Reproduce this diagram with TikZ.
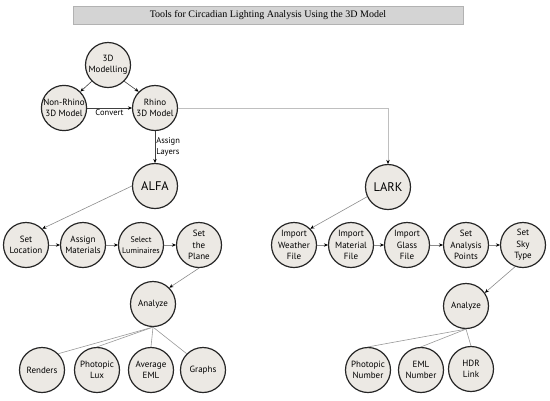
\documentclass[tikz,border=0pt]{standalone}
\usepackage{fontspec}
\setmainfont{PT Sans}
\newfontfamily\titlefont{Liberation Serif}
\usetikzlibrary{arrows.meta}
\definecolor{toolfill}{HTML}{ECE9E4}
\tikzstyle{tool}=[circle, draw=black!85, line width=1.2pt, fill=toolfill, minimum size=45pt, inner sep=0pt, align=center, font=\fontsize{9}{11.5}\selectfont]
\tikzstyle{toolbig}=[tool, font=\fontsize{12.5}{14}\selectfont]
\tikzstyle{toolsmall}=[tool, font=\fontsize{8}{10.5}\selectfont]
\tikzstyle{arrow}=[draw=black!45, line width=0.6pt, -{Stealth[length=4pt, width=3.5pt, color=black]}]
\tikzstyle{darkarrow}=[arrow, draw=black!75]
\tikzstyle{link}=[draw=black!40, line width=0.6pt]
\tikzstyle{edgelabel}=[font=\fontsize{8.5}{11}\selectfont, inner sep=1pt]

\begin{document}
\begin{tikzpicture}[x=1pt, y=-1pt]
		   \useasboundingbox (0,0) rectangle (550,400);
		   \node (title) at (268,15)[draw=black!30, fill=black!17, minimum width=390pt, minimum height=18pt, font=\titlefont\fontsize{10}{12}\selectfont] {Tools for Circadian Lighting Analysis Using the 3D Model};
		   \begin{scope}
			   \node (model) at (108, 65)[tool] {3D\\Modelling};
			   \node (nonrhino) at (64, 108)[tool] {Non-Rhino\\3D Model};
			   \node (rhino) at (155, 108)[tool] {Rhino\\3D Model};
			   \node (alfa) at (155, 186)[toolbig] {ALFA};
			   \node (lark) at (388, 187)[toolbig] {LARK};
			   \node (location) at (26, 245)[tool] {Set\\Location};
			   \node (materials) at (83, 245)[tool] {Assign\\Materials};
			   \node (luminaires) at (141, 245)[toolsmall] {Select\\Luminaires};
			   \node (plane) at (199, 245)[tool] {Set\\the\\Plane};
			   \node (analyzealfa) at (153, 304)[tool] {Analyze};
			   \node (renders) at (42, 370)[tool] {Renders};
			   \node (lux) at (97, 370)[tool] {Photopic\\Lux};
			   \node (eml) at (151, 370)[tool] {Average\\EML};
			   \node (graphs) at (203, 370)[tool] {Graphs};
			   \node (weather) at (294, 245)[tool] {Import\\Weather\\File};
			   \node (material) at (351, 245)[tool] {Import\\Material\\File};
			   \node (glass) at (407, 245)[tool] {Import\\Glass\\File};
			   \node (points) at (466, 245)[tool] {Set\\Analysis\\Points};
			   \node (sky) at (523, 245)[tool] {Set\\Sky\\Type};
			   \node (analyzelark) at (466, 306)[tool] {Analyze};
			   \node (photopic) at (368, 370)[tool] {Photopic\\Number};
			   \node (emlnumber) at (421, 370)[tool] {EML\\Number};
			   \node (hdr) at (471, 369)[tool] {HDR\\Link};
		   \end{scope}
		   \begin{scope}
			   \draw [darkarrow] (model.south west) -- (nonrhino.north east);
			   \draw [darkarrow] (model.south east) -- (rhino.north west);
			   \draw [darkarrow] (nonrhino) -- node[edgelabel, below] {Convert} (rhino);
			   \draw [darkarrow] (rhino) -- node[edgelabel, right, align=left] {Assign\\Layers} (alfa);
			   \draw [arrow, draw=black!25] (rhino.east) -| (lark.north);
			   \draw [arrow] (alfa.west) -- (location.north east);
			   \draw [arrow] (location) -- (materials);
			   \draw [arrow] (materials) -- (luminaires);
			   \draw [arrow] (luminaires) -- (plane);
			   \draw [arrow] (plane.south) -- (analyzealfa.north east);
			   \draw [arrow] (lark.205) -- (weather.north east);
			   \draw [arrow] (weather) -- (material);
			   \draw [arrow] (material) -- (glass);
			   \draw [arrow] (glass) -- (points);
			   \draw [arrow] (points) -- (sky);
			   \draw [arrow] (sky.250) -- (analyzelark.35);
			   \path [link] (analyzealfa.south) edge (renders.north east);
			   \path [link] (analyzealfa.south) edge (lux.north);
			   \path [link] (analyzealfa.south) edge (eml.north);
			   \path [link] (analyzealfa.south) edge (graphs.north west);
			   \path [link] (analyzelark.south) edge (photopic.north);
			   \path [link] (analyzelark.south) edge (emlnumber.north);
			   \path [link] (analyzelark.south) edge (hdr.north);
		   \end{scope}
	   \end{tikzpicture}
\end{document}
